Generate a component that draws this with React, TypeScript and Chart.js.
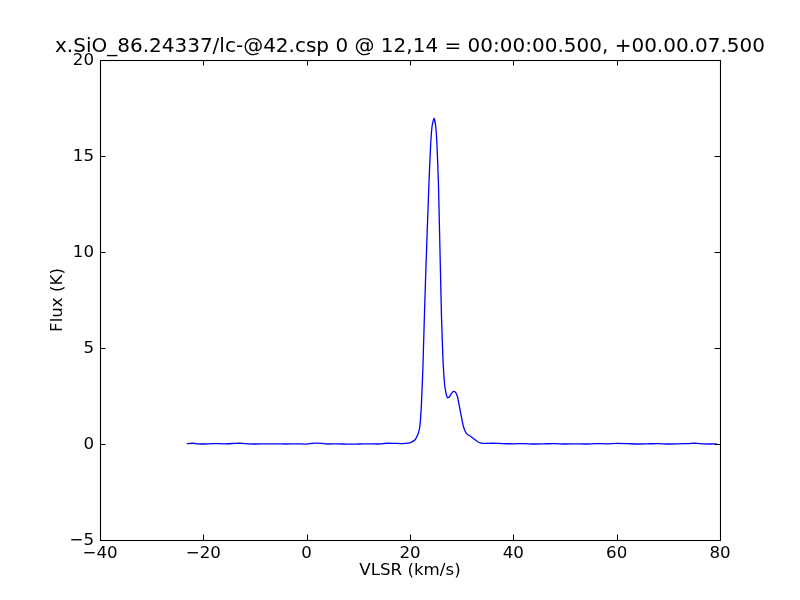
import React, { useEffect, useRef } from "react";
import { Chart, registerables } from "chart.js";

Chart.register(...registerables);

const titleText = "x.SiO_86.24337/lc-@42.csp 0 @ 12,14 = 00:00:00.500, +00.00.07.500";
const xLabel = "VLSR (km/s)";
const yLabel = "Flux (K)";

const velocity = [
  -23.2, -22, -21, -20, -18, -16, -14, -13, -12, -10, -8, -6, -4, -2, 0, 1, 2, 3, 4, 6, 8, 10, 12, 14,
  15.5, 17, 18.5, 19.5, 20.3, 21, 21.3, 21.6, 21.9, 22.2, 22.5, 22.8, 23.1, 23.4, 23.7, 24.0, 24.3,
  24.65, 24.95, 25.2, 25.5, 25.8, 26.1, 26.4, 26.7, 27.0, 27.3, 27.6, 28.0, 28.4, 28.8, 29.2, 29.6,
  30.0, 30.3, 30.7, 31.1, 31.6, 32.1, 32.6, 33.1, 33.6, 34.5, 36, 38, 40, 42, 44, 46, 48, 50, 52, 54,
  56, 58, 60, 62, 64, 66, 68, 70, 72, 74, 75, 76, 78, 79.4,
];

const flux = [
  0.02, 0.04, 0.01, 0.0, 0.02, 0.01, 0.03, 0.04, 0.02, 0.0, 0.01, 0.01, 0.0, 0.01, -0.01, 0.03, 0.05,
  0.03, 0.0, 0.01, -0.01, 0.0, 0.01, 0.0, 0.04, 0.03, 0.02, 0.04, 0.1, 0.22, 0.37, 0.55, 0.9, 2.0, 4.0,
  6.8, 9.3, 11.6, 13.8, 15.6, 16.6, 16.97, 16.6, 15.7, 13.6, 10.1, 6.6, 4.3, 3.1, 2.6, 2.4, 2.45, 2.62,
  2.74, 2.7, 2.45, 1.9, 1.35, 0.95, 0.65, 0.5, 0.42, 0.33, 0.22, 0.12, 0.06, 0.03, 0.04, 0.02, 0.01,
  0.02, 0.0, 0.01, 0.02, 0.0, 0.01, 0.0, 0.02, 0.01, 0.03, 0.02, 0.0, 0.01, 0.02, 0.0, 0.01, 0.02,
  0.04, 0.02, 0.0, 0.01,
];

const xTicks = [-40, -20, 0, 20, 40, 60, 80];
const yTicks = [-5, 0, 5, 10, 15, 20];

const FONT = "'DejaVu Sans', sans-serif";

const framePlugin = {
  id: "frameAndTitle",
  afterDraw(chart: any) {
    const { ctx, chartArea } = chart;
    const { left, right, top, bottom } = chartArea;
    const xs = chart.scales.x;
    const ys = chart.scales.y;
    const tl = 5.5;
    ctx.save();
    ctx.strokeStyle = "#000";
    ctx.lineWidth = 1;
    ctx.beginPath();
    for (const v of xTicks) {
      const px = Math.round(xs.getPixelForValue(v)) + 0.5;
      ctx.moveTo(px, bottom);
      ctx.lineTo(px, bottom - tl);
      ctx.moveTo(px, top);
      ctx.lineTo(px, top + tl);
    }
    for (const v of yTicks) {
      const py = Math.round(ys.getPixelForValue(v)) + 0.5;
      ctx.moveTo(left, py);
      ctx.lineTo(left + tl, py);
      ctx.moveTo(right, py);
      ctx.lineTo(right - tl, py);
    }
    ctx.stroke();
    ctx.lineWidth = 1.1;
    ctx.strokeRect(left + 0.5, top + 0.5, right - left, bottom - top);
    ctx.fillStyle = "#000";
    ctx.font = `20px ${FONT}`;
    ctx.textAlign = "center";
    ctx.textBaseline = "alphabetic";
    ctx.fillText(titleText, (left + right) / 2, 51.7);
    ctx.restore();
  },
};

export default function App() {
  const ref = useRef<HTMLCanvasElement | null>(null);
  useEffect(() => {
    if (!ref.current) return;
    const points = velocity.map((v, i) => ({ x: v, y: flux[i] }));
    const chart = new Chart(ref.current, {
      type: "line",
      data: {
        datasets: [
          {
            data: points,
            borderColor: "#0000ff",
            borderWidth: 1.3,
            pointRadius: 0,
            fill: false,
            tension: 0.15,
          },
        ],
      },
      options: {
        responsive: false,
        animation: false,
        layout: { padding: { top: 60, right: 80, left: 0, bottom: 0 } },
        plugins: { legend: { display: false }, tooltip: { enabled: false } },
        scales: {
          x: {
            type: "linear",
            min: -40,
            max: 80,
            afterBuildTicks: (s: any) => {
              s.ticks = xTicks.map((v) => ({ value: v }));
            },
            afterFit: (s: any) => {
              s.height = 60;
            },
            grid: { display: false, drawTicks: false },
            border: { display: false },
            ticks: {
              color: "#000",
              padding: 4,
              font: { family: FONT, size: 16.67 },
              callback: (v: any) => String(v).replace("-", "\u2212"),
              maxRotation: 0,
            },
            title: {
              display: true,
              text: xLabel,
              color: "#000",
              font: { family: FONT, size: 16.67 },
              padding: { top: 0, bottom: 19 },
            },
          },
          y: {
            type: "linear",
            min: -5,
            max: 20,
            afterBuildTicks: (s: any) => {
              s.ticks = yTicks.map((v) => ({ value: v }));
            },
            afterFit: (s: any) => {
              s.width = 100;
            },
            grid: { display: false, drawTicks: false },
            border: { display: false },
            ticks: {
              color: "#000",
              padding: 6,
              labelOffset: 1,
              font: { family: FONT, size: 16.67 },
              callback: (v: any) => String(v).replace("-", "\u2212"),
            },
            title: {
              display: true,
              text: yLabel,
              color: "#000",
              font: { family: FONT, size: 16.67 },
              padding: { top: 48, bottom: 0 },
            },
          },
        },
      },
      plugins: [framePlugin],
    });
    return () => chart.destroy();
  }, []);
  return (
    <div style={{ position: "fixed", left: 0, top: 0, width: 800, height: 600, background: "#fff" }}>
      <canvas ref={ref} width={800} height={600} />
    </div>
  );
}
